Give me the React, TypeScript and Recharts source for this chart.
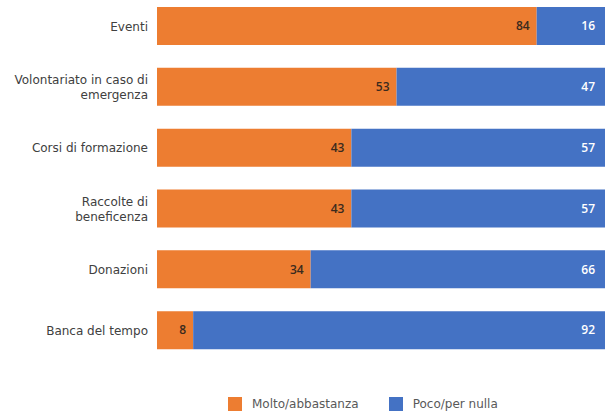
import { BarChart, Bar, XAxis, YAxis, LabelList, Legend } from "recharts";

// categories as shown on the axis, "\n" marks the line break used in the original
const categories = [
  "Eventi",
  "Volontariato in caso di\nemergenza",
  "Corsi di formazione",
  "Raccolte di\nbeneficenza",
  "Donazioni",
  "Banca del tempo",
];
const moltoAbbastanza = [84, 53, 43, 43, 34, 8];
const pocoPerNulla = [16, 47, 57, 57, 66, 92];
const seriesNames = ["Molto/abbastanza", "Poco/per nulla"];

const ORANGE = "#ED7D31";
const BLUE = "#4472C4";
const FONT = "'Open Sans', sans-serif";
const TICK_FONT = "'DejaVu Sans', sans-serif";

const data = categories.map((name, i) => ({
  name,
  molto: moltoAbbastanza[i],
  poco: pocoPerNulla[i],
}));

function CategoryTick(props: any) {
  const { x, y, payload } = props;
  const lines = String(payload.value).split("\n");
  const lineHeight = 15;
  const startY = y - ((lines.length - 1) * lineHeight) / 2;
  return (
    <text
      x={x - 1}
      y={startY}
      textAnchor="end"
      fill="#404040"
      fontSize={12}
      fontFamily={TICK_FONT}
    >
      {lines.map((line, i) => (
        <tspan key={i} x={x - 1} y={startY + i * lineHeight} dy="0.35em">
          {line}
        </tspan>
      ))}
    </text>
  );
}

function LegendContent() {
  const items = [
    { label: seriesNames[0], color: ORANGE },
    { label: seriesNames[1], color: BLUE },
  ];
  return (
    <div style={{ display: "flex", alignItems: "center", gap: 30 }}>
      {items.map((it) => (
        <div key={it.label} style={{ display: "flex", alignItems: "center" }}>
          <span
            style={{
              display: "inline-block",
              width: 14,
              height: 14,
              background: it.color,
              marginRight: 10,
            }}
          />
          <span style={{ fontFamily: TICK_FONT, fontSize: 12, color: "#595959" }}>
            {it.label}
          </span>
        </div>
      ))}
    </div>
  );
}

export default function App() {
  return (
    <div
      style={{
        position: "absolute",
        left: 0,
        top: 0,
        width: 605,
        height: 415,
        overflow: "hidden",
        background: "#fff",
      }}
    >
      <div style={{ position: "relative", top: -4 }}>
        <BarChart
          width={620}
          height={420}
          data={data}
          layout="vertical"
          margin={{ top: 0, right: 11, bottom: 55, left: 0 }}
        >
          <XAxis type="number" domain={[0, 100]} hide />
          <YAxis
            type="category"
            dataKey="name"
            width={157}
            axisLine={false}
            tickLine={false}
            tick={<CategoryTick />}
            interval={0}
          />
          <Legend
            layout="horizontal"
            verticalAlign="middle"
            align="center"
            content={<LegendContent />}
            wrapperStyle={{ top: 401, left: 228, bottom: "auto", width: 340 }}
          />
          <Bar
            dataKey="molto"
            name={seriesNames[0]}
            stackId="a"
            fill={ORANGE}
            barSize={38}
            isAnimationActive={false}
          >
            <LabelList
              dataKey="molto"
              position="insideRight"
              offset={7}
              fill="#3a2a1e"
              fontSize={12}
              fontWeight={600}
              fontFamily={FONT}
            />
          </Bar>
          <Bar
            dataKey="poco"
            name={seriesNames[1]}
            stackId="a"
            fill={BLUE}
            barSize={38}
            isAnimationActive={false}
          >
            <LabelList
              dataKey="poco"
              position="insideRight"
              offset={14}
              fill="#ffffff"
              fontSize={12}
              fontWeight={600}
              fontFamily={FONT}
            />
          </Bar>
        </BarChart>
      </div>
    </div>
  );
}
